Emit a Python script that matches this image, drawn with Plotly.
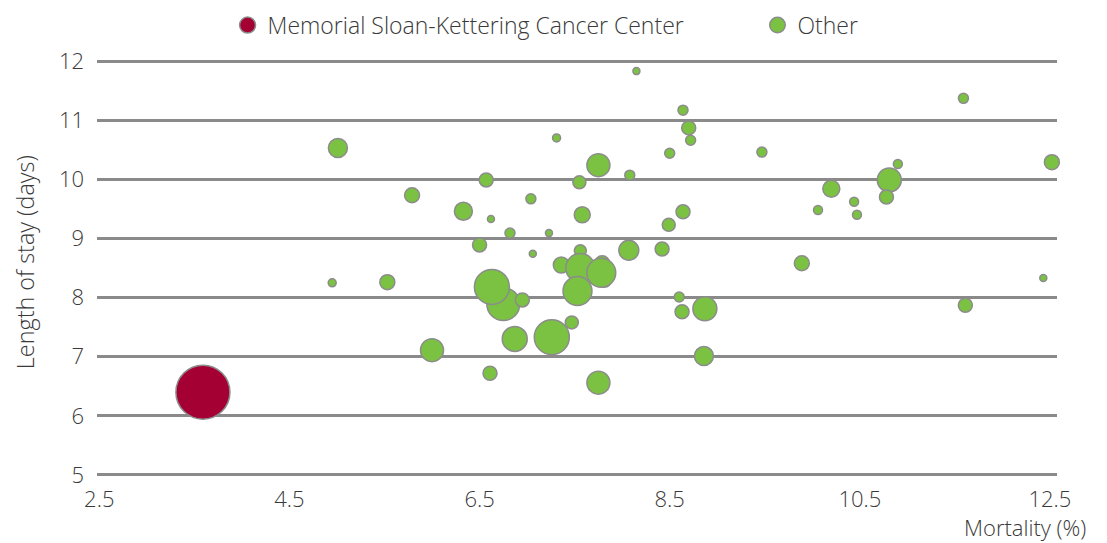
import plotly.graph_objects as go

# ---- data ----
msk_mortality = [3.59]
msk_los = [6.40]
msk_size = [54]

other_mortality = [8.15, 8.64, 11.59, 5.01, 7.31, 8.70, 8.72, 8.50, 9.47, 7.75,
                   8.08, 6.57, 7.55, 7.04, 5.79, 10.81, 10.90, 12.52, 10.20, 10.44,
                   10.06, 10.47, 10.78, 6.33, 6.62, 7.58, 8.64, 8.49, 6.82, 7.23,
                   6.50, 7.56, 8.07, 8.42, 7.06, 4.95, 5.53, 9.89, 12.43, 11.61,
                   7.36, 7.79, 7.81, 7.56, 7.53, 7.78, 6.75, 6.63, 6.95, 6.87,
                   7.26, 7.47, 6.00, 6.61, 7.75, 8.86, 8.87, 8.63, 8.60]
other_los = [11.83, 11.17, 11.37, 10.53, 10.70, 10.87, 10.66, 10.44, 10.46, 10.24,
             10.07, 9.99, 9.95, 9.67, 9.73, 9.99, 10.26, 10.29, 9.84, 9.62,
             9.48, 9.40, 9.70, 9.46, 9.33, 9.40, 9.45, 9.23, 9.09, 9.09,
             8.89, 8.79, 8.80, 8.82, 8.74, 8.25, 8.26, 8.58, 8.33, 7.87,
             8.55, 8.58, 8.30, 8.50, 8.11, 8.42, 7.89, 8.18, 7.96, 7.30,
             7.33, 7.58, 7.11, 6.72, 6.56, 7.01, 7.81, 7.76, 8.01]
other_size = [7, 10, 10, 19, 8, 14, 10, 10, 10, 23,
              10, 14, 13, 10, 15, 24, 9, 15, 17, 9,
              9, 9, 14, 18, 7, 16, 14, 13, 10, 7,
              14, 12, 20, 14, 7, 8, 15, 15, 7, 14,
              16, 15, 15, 29, 29, 29, 33, 35, 14, 25,
              35, 13, 23, 14, 23, 19, 24, 14, 10]

x_ticks = [2.5, 4.5, 6.5, 8.5, 10.5, 12.5]
y_ticks = [5, 6, 7, 8, 9, 10, 11, 12]

GREEN = "#7BC142"
RED = "#A50034"
OUTLINE = "#8C8C8C"
GRID = "#8A8A8A"
TEXT = "#3A3A3A"
FONT = "Open Sans"
W = 300

fig = go.Figure()
fig.add_trace(go.Scatter(
    x=msk_mortality, y=msk_los, mode="markers",
    name="Memorial Sloan-Kettering Cancer Center", legend="legend",
    marker=dict(size=msk_size, sizemode="diameter", color=RED,
                line=dict(color=OUTLINE, width=1.5), opacity=1),
    cliponaxis=False,
))
fig.add_trace(go.Scatter(
    x=other_mortality, y=other_los, mode="markers", name="Other", legend="legend2",
    marker=dict(size=other_size, sizemode="diameter", color=GREEN,
                line=dict(color=OUTLINE, width=1.5), opacity=1),
    cliponaxis=False,
))

legend_common = dict(orientation="h", yanchor="middle", y=1.081, xanchor="left",
                     font=dict(family=FONT, size=23, color=TEXT, weight=W),
                     itemsizing="trace", bgcolor="rgba(0,0,0,0)",
                     borderwidth=0)

fig.update_layout(
    width=1107, height=543,
    margin=dict(l=97, r=50, t=59, b=66, autoexpand=False),
    paper_bgcolor="white", plot_bgcolor="white",
    font=dict(family=FONT, size=22, color=TEXT, weight=W),
    showlegend=True,
    legend=dict(x=0.136, **legend_common),
    legend2=dict(x=0.688, **legend_common),
    xaxis=dict(range=[2.476, 12.574], tickvals=x_ticks,
               ticktext=[f"{v:.1f}" for v in x_ticks],
               showgrid=False, zeroline=False, showline=False,
               ticks="", ticklabelstandoff=7,
               tickfont=dict(family=FONT, size=22, color=TEXT, weight=W)),
    yaxis=dict(range=[4.965, 12.035], tickvals=y_ticks,
               showgrid=True, gridcolor=GRID, gridwidth=3,
               zeroline=False, showline=False, ticks="",
               ticklabelstandoff=12,
               tickfont=dict(family=FONT, size=22, color=TEXT, weight=W)),
    annotations=[
        dict(text="Length of stay (days)", xref="paper", yref="paper",
             x=-0.075, y=0.514, xanchor="center", yanchor="middle",
             textangle=-90, showarrow=False,
             font=dict(family=FONT, size=23.4, color=TEXT, weight=W)),
        dict(text="Mortality (%)", xref="paper", yref="paper",
             x=1.032, y=-0.1208, xanchor="right", yanchor="middle",
             showarrow=False, font=dict(family=FONT, size=22, color=TEXT, weight=W)),
    ],
)

fig.write_html(
    "out.html",
    config={"displayModeBar": False},
    post_script="document.body.style.margin='0';document.body.style.overflow='hidden';",
)
